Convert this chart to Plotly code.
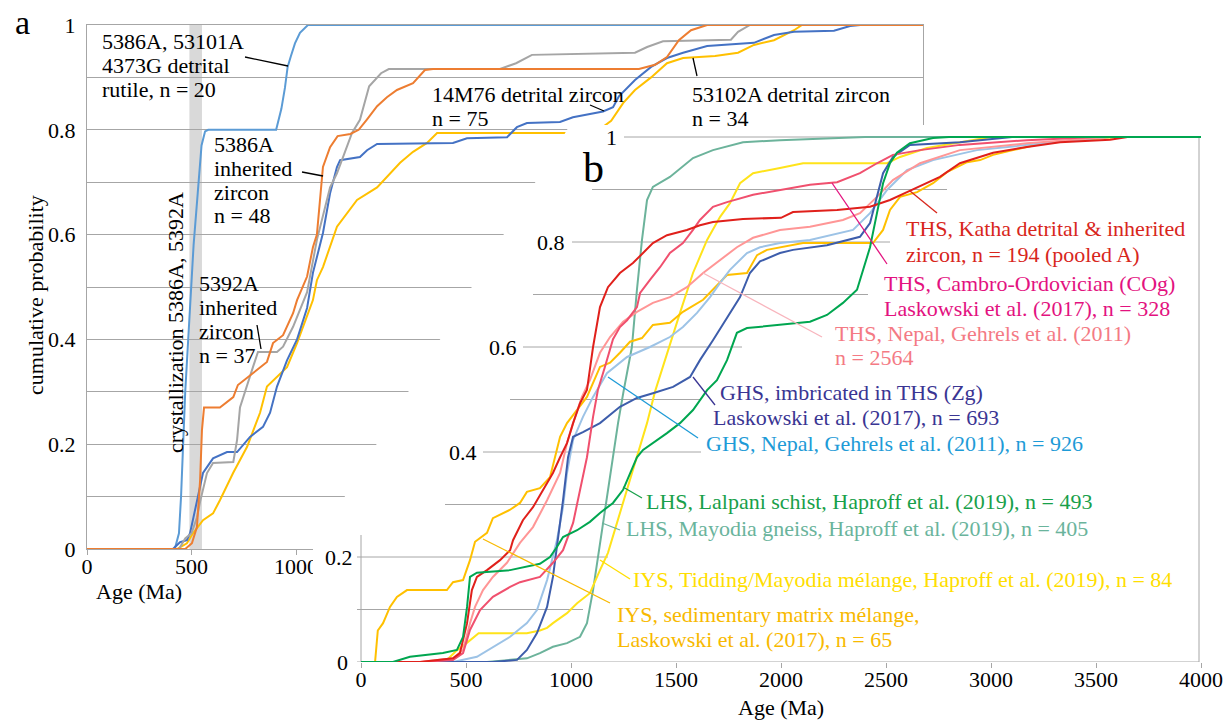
import plotly.graph_objects as go

W, H = 1225, 721
FONT = "Liberation Serif"

# ---------------- Panel a data (age Ma, cumulative probability) ----------------
a_rutile_age = [0, 420, 440, 450, 470, 490, 510, 530, 548, 565, 580, 905, 930, 947, 960, 975, 995, 1019, 1057, 4000]
a_rutile_cp = [0, 0, 0.03, 0.1, 0.3, 0.45, 0.58, 0.68, 0.77, 0.797, 0.8, 0.8, 0.84, 0.88, 0.92, 0.94, 0.965, 0.985, 1.0, 1.0]

a_5386_age = [0, 470, 502, 526, 541, 550, 560, 636, 700, 722, 795, 861, 890, 938, 986, 1005, 1053, 1081, 1100, 1115, 1129, 1163, 1199, 1260,
              1300, 1340, 1388, 1435, 1483, 1560, 1617, 1656, 2641, 2718, 2775, 2832, 2890, 2967, 4000]
a_5386_cp = [0, 0, 0.011, 0.042, 0.13, 0.227, 0.27, 0.27, 0.29, 0.313, 0.336, 0.357, 0.393, 0.408, 0.45, 0.475, 0.52, 0.576, 0.6, 0.666,
             0.729, 0.767, 0.788, 0.792, 0.8, 0.82, 0.845, 0.862, 0.876, 0.889, 0.914, 0.916, 0.916, 0.924, 0.939, 0.971, 0.99, 1.0, 1.0]

a_5392_age = [0, 440, 470, 500, 526, 541, 574, 603, 700, 718, 732, 766, 794, 818, 909, 938, 986, 1053, 1100, 1163, 1196, 1225, 1268,
              1306, 1350, 1407, 1444, 1976, 2053, 2129, 2622, 2680, 2756, 3081, 3115, 3172, 4000]
a_5392_cp = [0, 0, 0.02, 0.03, 0.06, 0.09, 0.145, 0.164, 0.166, 0.208, 0.27, 0.31, 0.347, 0.376, 0.376, 0.386, 0.424, 0.49, 0.59, 0.69,
             0.717, 0.748, 0.794, 0.819, 0.883, 0.908, 0.916, 0.916, 0.927, 0.943, 0.947, 0.958, 0.969, 0.972, 0.987, 1.0, 1.0]

a_14M76_age = [0, 411, 445, 478, 493, 526, 555, 603, 670, 718, 780, 842, 876, 909, 957, 1005, 1053, 1081, 1129, 1163, 1196, 1211, 1306,
               1340, 1388, 1751, 1818, 2010, 2057, 2105, 2263, 2325, 2469, 2517, 2545, 2622, 2699, 2775, 2852, 2967, 3191, 3287, 3383,
               3574, 3651, 3700, 4000]
a_14M76_cp = [0, 0, 0.013, 0.017, 0.03, 0.093, 0.145, 0.173, 0.185, 0.185, 0.214, 0.233, 0.26, 0.31, 0.36, 0.4, 0.46, 0.527, 0.603,
              0.679, 0.729, 0.742, 0.748, 0.761, 0.773, 0.775, 0.784, 0.786, 0.805, 0.813, 0.815, 0.824, 0.835, 0.843, 0.864, 0.895,
              0.92, 0.937, 0.947, 0.96, 0.966, 0.981, 0.987, 0.989, 0.998, 1.0, 1.0]

a_53102_age = [0, 431, 478, 507, 555, 603, 636, 699, 766, 828, 861, 909, 957, 1005, 1053, 1081, 1100, 1129, 1196, 1292, 1388, 1435,
               1498, 1560, 1627, 1675, 2400, 2450, 2508, 2565, 2622, 2699, 2775, 2852, 3005, 3115, 3191, 3287, 3383, 3421, 4000]
a_53102_cp = [0, 0, 0.011, 0.03, 0.055, 0.068, 0.093, 0.145, 0.195, 0.26, 0.31, 0.328, 0.347, 0.393, 0.443, 0.475, 0.513, 0.538, 0.615,
              0.666, 0.69, 0.71, 0.737, 0.758, 0.775, 0.794, 0.794, 0.8, 0.817, 0.851, 0.876, 0.9, 0.927, 0.937, 0.941, 0.947, 0.962,
              0.971, 0.99, 1.0, 1.0]

# ---------------- Panel b data ----------------
b_katha_age = [0, 281, 438, 471, 505, 528, 552, 600, 662, 710, 724, 771, 819, 886, 914, 948, 981, 1010, 1043, 1076, 1105, 1138, 1176,
               1233, 1295, 1343, 1390, 1457, 1552, 1614, 1676, 1819, 2000, 2057, 2267, 2424, 2519, 2600, 2676, 2757, 2852, 3010, 3171,
               3329, 3567, 3650, 4000]
b_katha_cp = [0, 0, 0.007, 0.017, 0.074, 0.137, 0.162, 0.175, 0.194, 0.213, 0.232, 0.27, 0.295, 0.341, 0.36, 0.39, 0.417, 0.455, 0.493,
              0.518, 0.6, 0.676, 0.714, 0.741, 0.76, 0.779, 0.798, 0.813, 0.823, 0.832, 0.838, 0.844, 0.846, 0.857, 0.861, 0.867, 0.88,
              0.895, 0.909, 0.924, 0.95, 0.97, 0.981, 0.99, 0.995, 1.0, 1.0]

b_cog_age = [0, 295, 438, 486, 519, 567, 628, 710, 757, 852, 914, 962, 1010, 1043, 1076, 1105, 1128, 1160, 1200, 1233, 1267, 1314, 1329,
             1376, 1424, 1471, 1533, 1581, 1614, 1676, 1743, 1867, 1995, 2138, 2267, 2376, 2457, 2533, 2662, 2852, 3171, 3500, 4000]
b_cog_cp = [0, 0, 0.004, 0.017, 0.061, 0.099, 0.124, 0.143, 0.152, 0.162, 0.189, 0.213, 0.265, 0.328, 0.39, 0.467, 0.518, 0.56, 0.615,
            0.638, 0.651, 0.676, 0.703, 0.728, 0.752, 0.779, 0.798, 0.823, 0.842, 0.867, 0.876, 0.89, 0.899, 0.909, 0.914, 0.931, 0.95,
            0.966, 0.975, 0.985, 0.994, 1.0, 1.0]

b_thsnepal_age = [0, 281, 438, 486, 519, 543, 581, 628, 695, 757, 819, 886, 948, 981, 1010, 1052, 1090, 1138, 1186, 1248, 1314, 1390,
                  1471, 1552, 1629, 1710, 1790, 1867, 1995, 2138, 2295, 2376, 2457, 2533, 2662, 2852, 3171, 3567, 4000]
b_thsnepal_cp = [0, 0, 0.007, 0.023, 0.074, 0.105, 0.137, 0.162, 0.189, 0.227, 0.257, 0.308, 0.36, 0.417, 0.455, 0.505, 0.537, 0.589,
                 0.619, 0.648, 0.667, 0.684, 0.695, 0.714, 0.741, 0.766, 0.79, 0.808, 0.823, 0.829, 0.842, 0.855, 0.886, 0.918, 0.95,
                 0.975, 0.988, 1.0, 1.0]

b_ghsnepal_age = [0, 438, 552, 628, 710, 790, 838, 886, 933, 962, 981, 1010, 1057, 1105, 1171, 1267, 1376, 1471, 1533, 1600, 1662, 1710,
                  1757, 1838, 1900, 1995, 2138, 2343, 2424, 2505, 2600, 2724, 2933, 3248, 3567, 4000]
b_ghsnepal_cp = [0, 0, 0.01, 0.029, 0.048, 0.074, 0.099, 0.156, 0.232, 0.295, 0.36, 0.423, 0.467, 0.505, 0.55, 0.581, 0.6, 0.619, 0.638,
                 0.665, 0.695, 0.722, 0.747, 0.779, 0.79, 0.798, 0.804, 0.823, 0.855, 0.899, 0.937, 0.956, 0.975, 0.988, 1.0, 1.0]

b_zg_age = [0, 628, 743, 790, 838, 886, 914, 938, 962, 986, 1010, 1057, 1138, 1233, 1314, 1390, 1486, 1567, 1614, 1676, 1743, 1805, 1852,
            1900, 1995, 2057, 2219, 2376, 2424, 2457, 2486, 2533, 2614, 2852, 3100, 4000]
b_zg_cp = [0, 0, 0.004, 0.023, 0.055, 0.105, 0.162, 0.232, 0.308, 0.39, 0.429, 0.438, 0.455, 0.486, 0.503, 0.512, 0.524, 0.543, 0.575,
           0.613, 0.657, 0.695, 0.741, 0.763, 0.779, 0.785, 0.794, 0.81, 0.836, 0.886, 0.931, 0.962, 0.985, 0.99, 1.0, 1.0]

b_lalpani_age = [0, 152, 233, 314, 390, 457, 486, 505, 519, 552, 710, 852, 900, 933, 962, 1029, 1090, 1138, 1200, 1248, 1281, 1314, 1343,
                 1390, 1457, 1519, 1581, 1648, 1695, 1743, 1790, 1838, 1995, 2138, 2219, 2295, 2362, 2390, 2424, 2457, 2486, 2519, 2552,
                 2614, 2724, 2800, 4000]
b_lalpani_cp = [0, 0, 0.01, 0.013, 0.017, 0.023, 0.048, 0.105, 0.162, 0.17, 0.175, 0.187, 0.2, 0.219, 0.238, 0.251, 0.267, 0.284, 0.303,
                0.328, 0.36, 0.39, 0.404, 0.417, 0.436, 0.455, 0.48, 0.518, 0.537, 0.575, 0.627, 0.636, 0.642, 0.648, 0.661, 0.684,
                0.709, 0.747, 0.79, 0.855, 0.912, 0.95, 0.97, 0.988, 0.998, 1.0, 1.0]

b_mayodia_age = [0, 600, 790, 852, 914, 981, 1043, 1076, 1105, 1128, 1152, 1176, 1200, 1224, 1250, 1290, 1314, 1338, 1362, 1390, 1471,
                 1581, 1676, 1819, 1995, 2400, 4000]
b_mayodia_cp = [0, 0, 0.007, 0.017, 0.029, 0.036, 0.048, 0.074, 0.137, 0.2, 0.265, 0.328, 0.39, 0.455, 0.515, 0.6, 0.709, 0.804, 0.88,
                0.905, 0.924, 0.96, 0.975, 0.99, 0.994, 1.0, 1.0]

b_tidding_age = [0, 400, 450, 500, 560, 790, 852, 886, 914, 981, 1029, 1090, 1138, 1176, 1219, 1267, 1314, 1362, 1400, 1457, 1519, 1581,
                 1648, 1710, 1757, 1805, 1867, 1995, 2105, 2505, 2567, 2695, 2852, 3000, 4000]
b_tidding_cp = [0, 0, 0.02, 0.035, 0.055, 0.055, 0.06, 0.065, 0.074, 0.093, 0.112, 0.131, 0.175, 0.208, 0.265, 0.328, 0.39, 0.455, 0.515,
                0.589, 0.665, 0.741, 0.804, 0.848, 0.874, 0.912, 0.931, 0.941, 0.95, 0.95, 0.962, 0.979, 0.99, 1.0, 1.0]

b_sedim_age = [0, 67, 80, 105, 138, 171, 219, 409, 438, 486, 519, 543, 600, 628, 710, 757, 790, 852, 900, 933, 948, 981, 1029, 1076,
               1138, 1186, 1233, 1281, 1338, 1390, 1471, 1533, 1629, 1676, 1743, 1838, 1886, 1933, 2105, 2438, 2486, 2519, 2567, 2648,
               2724, 2790, 2886, 2948, 3010, 3105, 3248, 3410, 3600, 4000]
b_sedim_cp = [0, 0, 0.06, 0.074, 0.105, 0.124, 0.137, 0.137, 0.152, 0.156, 0.194, 0.229, 0.246, 0.274, 0.29, 0.303, 0.324, 0.331, 0.352,
              0.404, 0.429, 0.455, 0.48, 0.505, 0.562, 0.57, 0.589, 0.61, 0.617, 0.642, 0.646, 0.667, 0.69, 0.709, 0.737, 0.741, 0.775,
              0.785, 0.798, 0.798, 0.823, 0.861, 0.886, 0.895, 0.912, 0.933, 0.952, 0.956, 0.966, 0.975, 0.988, 0.994, 1.0, 1.0]

a_x_ticks = [0, 500, 1000]          # the rest of panel a's axis lies under panel b
b_x_ticks = [0, 500, 1000, 1500, 2000, 2500, 3000, 3500, 4000]
y_ticks_a = [0, 0.1, 0.2, 0.3, 0.4, 0.5, 0.6, 0.7, 0.8, 0.9, 1.0]
y_ticktext_a = ["0", "", "0.2", "", "0.4", "", "0.6", "", "0.8", "", "1"]
crystallization_band = [490, 550]

# ---------------- pixel helpers (layout only) ----------------
def fx(px):
    return px / W


def fy(py):
    return 1 - py / H


B_X0, B_SX = 361, 0.21      # panel b: px of age 0, px per Ma
B_Y0, B_SY = 662, 525       # panel b: px of cp 0, px per unit


def bx(px):
    return (px - B_X0) / B_SX


def by(py):
    return (B_Y0 - py) / B_SY


fig = go.Figure()

a_series = [
    (a_rutile_age, a_rutile_cp, "#5b9bd5", "5386A, 53101A, 4373G rutile"),
    (a_53102_age, a_53102_cp, "#ffc000", "53102A"),
    (a_14M76_age, a_14M76_cp, "#4472c4", "14M76"),
    (a_5392_age, a_5392_cp, "#a5a5a5", "5392A"),
    (a_5386_age, a_5386_cp, "#ed7d31", "5386A"),
]
for ag, cp, col, nm in a_series:
    fig.add_trace(go.Scatter(x=ag, y=cp, mode="lines", line=dict(color=col, width=2),
                             name=nm, cliponaxis=False, xaxis="x", yaxis="y", showlegend=False))

b_series = [
    (b_mayodia_age, b_mayodia_cp, "#6cb39b", "LHS Mayodia"),
    (b_tidding_age, b_tidding_cp, "#ffe31a", "IYS Tidding"),
    (b_sedim_age, b_sedim_cp, "#ffc000", "IYS sedimentary"),
    (b_ghsnepal_age, b_ghsnepal_cp, "#9dc3e6", "GHS Nepal"),
    (b_thsnepal_age, b_thsnepal_cp, "#ff9696", "THS Nepal"),
    (b_zg_age, b_zg_cp, "#3d5dab", "GHS Zg"),
    (b_cog_age, b_cog_cp, "#f0506e", "THS COg"),
    (b_katha_age, b_katha_cp, "#e0201b", "THS Katha"),
    (b_lalpani_age, b_lalpani_cp, "#00a650", "LHS Lalpani"),
]
for ag, cp, col, nm in b_series:
    fig.add_trace(go.Scatter(x=ag, y=cp, mode="lines", line=dict(color=col, width=2),
                             name=nm, cliponaxis=False, xaxis="x2", yaxis="y2", showlegend=False))

GRID = "#a6a6a6"
shapes = []
# crystallization band (panel a)
shapes.append(dict(type="rect", xref="x", yref="y", x0=crystallization_band[0], x1=crystallization_band[1],
                   y0=0, y1=1, fillcolor="#d9d9d9", line=dict(width=0), layer="below"))
# white cover of panel b with slanted left edge
cover = (f"M {bx(1225)} {by(125)} L {bx(570)} {by(125)} L {bx(313)} {by(549)} "
         f"L {bx(313)} {by(662)} L {bx(1225)} {by(662)} Z")
shapes.append(dict(type="path", xref="x2", yref="y2", path=cover, fillcolor="white",
                   line=dict(width=0), layer="below"))
# panel b gridlines (value, start px, end px)
b_grid = [(1.0, 624, 1199), (0.9, 592, 947), (0.8, 572, 890), (0.7, 533, 868), (0.6, 523, 742),
          (0.5, 510, 701), (0.4, 483, 701), (0.3, 445, 623), (0.2, 357, 608), (0.1, 357, 583)]
for v, p0, p1 in b_grid:
    shapes.append(dict(type="line", xref="x2", yref="y2", x0=bx(p0), x1=bx(p1), y0=v, y1=v,
                       line=dict(color=GRID, width=1), layer="below"))
# panel b axis lines and right border
shapes.append(dict(type="line", xref="x2", yref="y2", x0=bx(357), x1=bx(1199), y0=0, y1=0,
                   line=dict(color=GRID, width=1), layer="below"))
shapes.append(dict(type="line", xref="x2", yref="y2", x0=0, x1=0, y0=0, y1=by(535),
                   line=dict(color=GRID, width=1), layer="below"))
shapes.append(dict(type="line", xref="x2", yref="y2", x0=bx(1199), x1=bx(1199), y0=0, y1=by(137),
                   line=dict(color=GRID, width=1), layer="below"))

# leader lines (px coords)
leaders = [
    (245, 57, 288, 66, "black"),
    (302, 172, 323, 176, "black"),
    (257, 325, 261, 349, "black"),
    (590, 105, 604, 111, "black"),
    (693, 58, 697, 76, "black"),
    (910, 191, 937, 213, "#d8261c"),
    (832, 183, 887, 264, "#e3127f"),
    (703, 273, 822, 337, "#f8b5bd"),
    (693, 377, 715, 405, "#3a3593"),
    (608, 377, 698, 438, "#1e9bd7"),
    (623, 487, 642, 498, "#18a04a"),
    (602, 523, 620, 530, "#6ab49c"),
    (600, 560, 630, 579, "#ffde00"),
    (483, 539, 610, 603, "#f8b900"),
]
for x0, y0, x1, y1, c in leaders:
    shapes.append(dict(type="line", xref="paper", yref="paper", x0=fx(x0), y0=fy(y0), x1=fx(x1), y1=fy(y1),
                       line=dict(color=c, width=1.3), layer="above"))

annotations = []


def txt(s, px, py, color="black", size=22, xanchor="left", angle=0):
    annotations.append(dict(text=s, x=fx(px), y=fy(py), xref="paper", yref="paper", showarrow=False,
                            xanchor=xanchor, yanchor="middle", textangle=angle, borderpad=0,
                            font=dict(family=FONT, size=size, color=color)))


# panel a labels
txt("a", 22, 23, size=34, xanchor="center")
txt("5386A, 53101A", 101, 42)
txt("4373G detrital", 101, 66)
txt("rutile, n = 20", 101, 90)
txt("5386A", 213, 144)
txt("inherited", 213, 168)
txt("zircon", 213, 192)
txt("n = 48", 213, 216)
txt("5392A", 198, 283)
txt("inherited", 198, 307)
txt("zircon", 198, 331)
txt("n = 37", 198, 355)
txt("14M76 detrital zircon", 431, 95)
txt("n = 75", 431, 118)
txt("53102A detrital zircon", 691, 95)
txt("n = 34", 691, 118)
txt("crystallization 5386A, 5392A", 175, 323, angle=-90, xanchor="center")
txt("cumulative probability", 35, 295, angle=-90, xanchor="center")
txt("Age (Ma)", 139, 591, xanchor="center")

# panel b labels
txt("b", 593, 168, size=42, xanchor="center")
b_ylabels = [("1", 618, 137), ("0.8", 566, 242), ("0.6", 518, 347), ("0.4", 478, 452), ("0.2", 354, 557), ("0", 349, 662)]
for s, px, py in b_ylabels:
    txt(s, px, py, xanchor="right")
txt("Age (Ma)", 781, 707, xanchor="center")

txt("THS, Katha detrital &amp; inherited", 905, 228, "#d8261c")
txt("zircon, n = 194 (pooled A)", 905, 254, "#d8261c")
txt("THS, Cambro-Ordovician (COg)", 883, 283, "#e3127f")
txt("Laskowski et al. (2017), n = 328", 883, 308, "#e3127f")
txt("THS, Nepal, Gehrels et al. (2011)", 834, 333, "#f47a84")
txt("n = 2564", 834, 357, "#f47a84")
txt("GHS, imbricated in THS (Zg)", 719, 392, "#3a3593")
txt("Laskowski et al. (2017), n = 693", 712, 417, "#3a3593")
txt("GHS, Nepal, Gehrels et al. (2011), n = 926", 705, 444, "#1e9bd7")
txt("LHS, Lalpani schist, Haproff et al. (2019), n = 493", 645, 501, "#18a04a")
txt("LHS, Mayodia gneiss, Haproff et al. (2019), n = 405", 625, 528, "#6ab49c")
txt("IYS, Tidding/Mayodia mélange, Haproff et al. (2019), n = 84", 632, 579, "#ffde00")
txt("IYS, sedimentary matrix mélange,", 616, 614, "#f8b900")
txt("Laskowski et al. (2017), n = 65", 616, 639, "#f8b900")

fig.update_layout(
    template="none",
    width=W, height=H, autosize=False,
    margin=dict(l=0, r=0, t=0, b=0, pad=0, autoexpand=False),
    paper_bgcolor="white", plot_bgcolor="rgba(0,0,0,0)",
    showlegend=False,
    font=dict(family=FONT, size=22, color="black"),
    xaxis=dict(domain=[fx(87), fx(923)], range=[0, 4000], tickvals=a_x_ticks, ticks="outside", ticklen=5,
               tickcolor=GRID, showline=True, linecolor=GRID, mirror=True, showgrid=False, zeroline=False,
               ticklabelstandoff=-7, automargin=False, tickfont=dict(family=FONT, size=22, color="black"),
               anchor="y", fixedrange=True),
    yaxis=dict(domain=[fy(549), fy(25)], range=[0, 1], tickvals=y_ticks_a, ticktext=y_ticktext_a, ticks="",
               showline=True, linecolor=GRID, mirror=True, showgrid=True, gridcolor=GRID, gridwidth=1,
               zeroline=False, ticklabelstandoff=6, automargin=False,
               tickfont=dict(family=FONT, size=22, color="black"), anchor="x", fixedrange=True),
    xaxis2=dict(domain=[fx(300), 1.0], range=[bx(300), bx(1225)], tickvals=b_x_ticks, ticks="outside", ticklen=5,
                tickcolor=GRID, showline=False, showgrid=False, zeroline=False, automargin=False,
                ticklabelstandoff=-7, tickfont=dict(family=FONT, size=22, color="black"), anchor="y2", fixedrange=True),
    yaxis2=dict(domain=[fy(662), fy(125)], range=[0, by(125)], showticklabels=False, showline=False,
                showgrid=False, zeroline=False, ticks="", automargin=False, anchor="x2", fixedrange=True),
    shapes=shapes,
    annotations=annotations,
)

fig.write_html("out.html", config={"displayModeBar": False},
               post_script="document.body.style.margin='0';document.body.style.overflow='hidden';")
